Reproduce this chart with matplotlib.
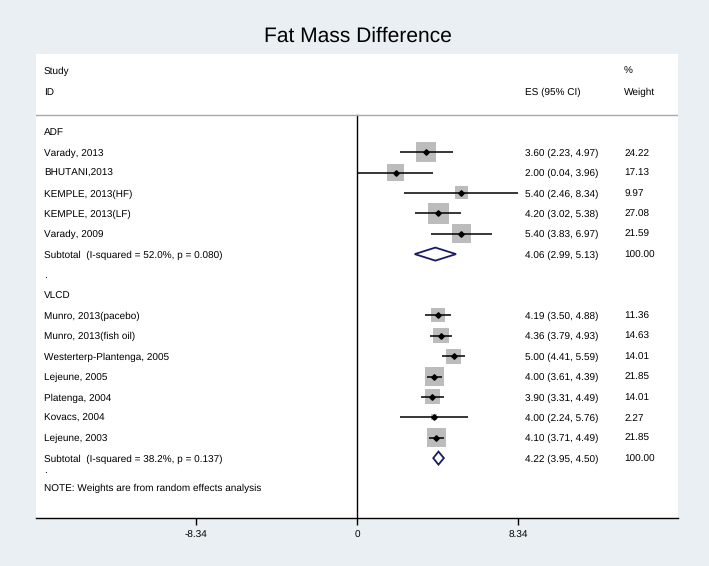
import matplotlib
matplotlib.use("Agg")
import matplotlib.pyplot as plt
from matplotlib.patches import Polygon
import numpy as np

# ---------------- data ----------------
title = "Fat Mass Difference"
groups = ["ADF", "VLCD"]

adf_studies = ["Varady, 2013", "BHUTANI,2013", "KEMPLE, 2013(HF)", "KEMPLE, 2013(LF)", "Varady, 2009"]
adf_es = [3.60, 2.00, 5.40, 4.20, 5.40]
adf_lo = [2.23, 0.04, 2.46, 3.02, 3.83]
adf_hi = [4.97, 3.96, 8.34, 5.38, 6.97]
adf_w = [24.22, 17.13, 9.97, 27.08, 21.59]
adf_sub = (4.06, 2.99, 5.13)
adf_sub_label = "Subtotal  (I-squared = 52.0%, p = 0.080)"

vlcd_studies = ["Munro, 2013(pacebo)", "Munro, 2013(fish oil)", "Westerterp-Plantenga, 2005",
                "Lejeune, 2005", "Platenga, 2004", "Kovacs, 2004", "Lejeune, 2003"]
vlcd_es = [4.19, 4.36, 5.00, 4.00, 3.90, 4.00, 4.10]
vlcd_lo = [3.50, 3.79, 4.41, 3.61, 3.31, 2.24, 3.71]
vlcd_hi = [4.88, 4.93, 5.59, 4.39, 4.49, 5.76, 4.49]
vlcd_w = [11.36, 14.63, 14.01, 21.85, 14.01, 2.27, 21.85]
vlcd_sub = (4.22, 3.95, 4.50)
vlcd_sub_label = "Subtotal  (I-squared = 38.2%, p = 0.137)"

xticks = [-8.34, 0, 8.34]
xtick_labels = ["-8.34", "0", "8.34"]
note = "NOTE: Weights are from random effects analysis"

# ---------------- style ----------------
W, H, DPI = 709, 566, 100
bg = "#e9eff2"
box_col = "#bcbcbc"
dia_col = "#1a1a66"
FS = 7.2
plt.rcParams["font.family"] = ["Liberation Sans", "DejaVu Sans"]
plt.rcParams["text.hinting"] = "no_hinting"
plt.rcParams["text.hinting_factor"] = 1

fig = plt.figure(figsize=(W / DPI, H / DPI), dpi=DPI, facecolor=bg)

# panel in pixel coords
px_l, px_r, px_t, px_b = 36, 678, 54, 517.7
ax = fig.add_axes([px_l / W, 1 - px_b / H, (px_r - px_l) / W, (px_b - px_t) / H])
ax.set_facecolor("white")

row0_px, row_h = 131.7, 20.4
ax.set_ylim((px_b - row0_px) / row_h, (px_t - row0_px) / row_h)
xhalf = 16.63
ax.set_xlim(-xhalf, xhalf)

for s in ["top", "left", "right"]:
    ax.spines[s].set_visible(False)
ax.spines["bottom"].set_linewidth(1.0)
ax.spines["bottom"].set_color("black")
ax.set_yticks([])
ax.set_xticks(xticks)
ax.set_xticklabels(xtick_labels, fontsize=FS)
ax.tick_params(axis="x", direction="out", length=5, width=1.0, pad=4.5, colors="black")

tx = ax.get_yaxis_transform()  # x in axes fraction, y in data
col_study, col_es, col_w = 0.0125, 0.7617, 0.916

# header
ax.text(col_study, -2.99, "Study", transform=tx, fontsize=FS, va="center_baseline")
ax.text(col_study, -1.96, "ID", transform=tx, fontsize=FS, va="center_baseline")
ax.text(col_es, -1.96, "ES (95% CI)", transform=tx, fontsize=FS, va="center_baseline")
ax.text(col_w, -2.99, "%", transform=tx, fontsize=FS, va="center_baseline")
ax.text(col_w, -1.96, "Weight", transform=tx, fontsize=FS, va="center_baseline")
ax.axhline(-0.80, color="#a8a8a8", lw=1.0)

# zero line
ax.plot([0, 0], [-0.80, ax.get_ylim()[0]], color="black", lw=1.0, zorder=1)


def draw_group(start, name, studies, es, lo, hi, w, sub, sub_label):
    ax.text(col_study, start, name, transform=tx, fontsize=FS, va="center_baseline")
    rows = np.arange(len(studies)) + start + 1
    sides = 4.06 * np.sqrt(np.array(w)) * 0.72  # points
    ax.scatter(es, rows, marker="s", s=sides ** 2, color=box_col, edgecolors="none", zorder=2)
    ax.hlines(rows, lo, hi, color="black", lw=1.1, zorder=3)
    ax.plot(es, rows, ls="none", marker="D", ms=2.8, color="black", zorder=4)
    for r, st, e, l, h, ww in zip(rows, studies, es, lo, hi, w):
        ax.text(col_study, r, st, transform=tx, fontsize=FS, va="center_baseline")
        ax.text(col_es, r, f"{e:.2f} ({l:.2f}, {h:.2f})", transform=tx, fontsize=FS, va="center_baseline")
        ax.text(col_w, r, f"{ww:.2f}", transform=tx, fontsize=FS, va="center_baseline")
    sr = rows[-1] + 1
    e, l, h = sub
    dh = 0.32
    poly = Polygon([(l, sr), (e, sr - dh), (h, sr), (e, sr + dh)], closed=True,
                   facecolor="white", edgecolor=dia_col, lw=1.3, zorder=3)
    ax.add_patch(poly)
    ax.text(col_study, sr, sub_label, transform=tx, fontsize=FS, va="center_baseline")
    ax.text(col_es, sr, f"{e:.2f} ({l:.2f}, {h:.2f})", transform=tx, fontsize=FS, va="center_baseline")
    ax.text(col_w, sr, "100.00", transform=tx, fontsize=FS, va="center_baseline")
    return sr


end1 = draw_group(0, groups[0], adf_studies, adf_es, adf_lo, adf_hi, adf_w, adf_sub, adf_sub_label)
ax.text(col_study, end1 + 1, ".", transform=tx, fontsize=FS, va="center_baseline")
end2 = draw_group(end1 + 2, groups[1], vlcd_studies, vlcd_es, vlcd_lo, vlcd_hi, vlcd_w, vlcd_sub, vlcd_sub_label)
ax.text(col_study, end2 + 0.55, ".", transform=tx, fontsize=FS, va="center_baseline")
ax.text(col_study, end2 + 1.45, note, transform=tx, fontsize=FS, va="center_baseline")

fig.text(357.5 / W, 1 - 41.7 / H, title, fontsize=15.3, ha="center", va="baseline")

fig.savefig("out.png", dpi=DPI, facecolor=bg)
